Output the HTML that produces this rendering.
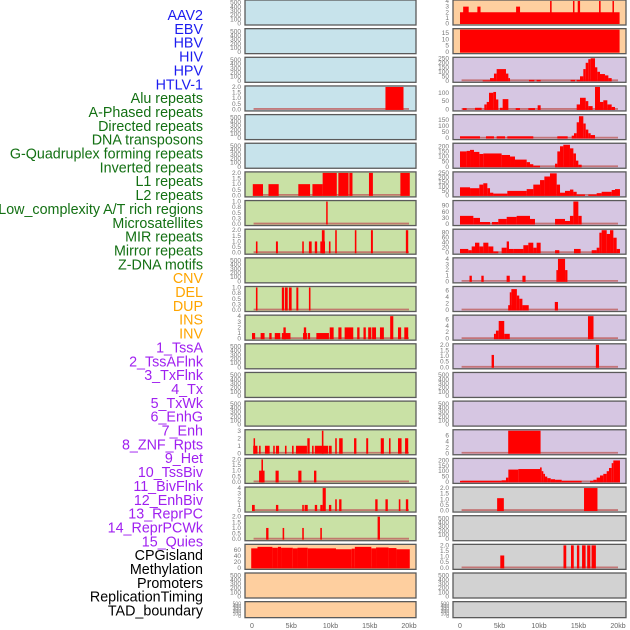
<!DOCTYPE html>
<html><head><meta charset="utf-8"><style>
html,body{margin:0;padding:0;background:#fff;width:630px;height:630px;overflow:hidden}
svg{display:block;font-family:"Liberation Sans",sans-serif}
</style></head><body>
<svg id="c" width="630" height="630"></svg>
<script>
const labels=["AAV2","EBV","HBV","HIV","HPV","HTLV-1","Alu repeats","A-Phased repeats","Directed repeats","DNA transposons","G-Quadruplex forming repeats","Inverted repeats","L1 repeats","L2 repeats","Low_complexity A/T rich regions","Microsatellites","MIR repeats","Mirror repeats","Z-DNA motifs","CNV","DEL","DUP","INS","INV","1_TssA","2_TssAFlnk","3_TxFlnk","4_Tx","5_TxWk","6_EnhG","7_Enh","8_ZNF_Rpts","9_Het","10_TssBiv","11_BivFlnk","12_EnhBiv","13_ReprPC","14_ReprPCWk","15_Quies","CPGisland","Methylation","Promoters","ReplicationTiming","TAD_boundary"];
const labelGroups=[6,13,5,15,5];
const groupColors=["#1c1cf0","#137013","#ffa500","#a020f0","#000000"];
const xTicks=[0,5,10,15,20];
const xTickLabels=["0","5kb","10kb","15kb","20kb"];
const leftBg=["b","b","b","b","b","b","g","g","g","g","g","g","g","g","g","g","g","g","g","o","o","o"];
const rightBg=["o","o","p","p","p","p","p","p","p","p","p","p","p","p","p","p","p","y","y","y","y","y"];
const E=null;
const leftYmax=[E,E,E,2,E,E,2,1,2,E,1,4,E,E,E,3,2,4,2,75,E,E];
const leftTickStep=[E,E,E,0.5,E,E,0.5,0.25,0.5,E,0.25,1,E,E,E,1,0.5,1,0.5,20,E,E];
const leftBars=[[],[],[],
[[17,19.3,2]],[],[],
[[0.1,1.4,1],[2.1,3.4,1],[5.9,7.4,1],[7.7,9.0,1],[9.0,10.8,2],[11.0,12.3,2],[12.4,12.8,2],[14.9,15.4,2],[18.9,20.1,2]],
[[9.45,9.6,1]],
[[0.5,0.7,1],[3.05,3.3,1],[6.4,6.6,1],[7.25,7.6,1],[8.0,8.3,1],[8.7,9.3,1],[8.9,9.25,2],[9.8,10.0,1],[10.6,10.8,2],[13.1,13.3,2],[15.15,15.4,2],[19.6,19.9,2]],
[],
[[0.5,0.7,1],[3.8,4.1,1],[4.2,4.55,1],[4.7,5.05,1],[5.65,5.9,1],[7.25,7.45,1]],
[[0.0,0.4,1],[1.1,1.6,1],[2.2,2.5,1],[2.9,3.6,1],[3.8,4.9,1],[4.0,4.3,2],[6.5,7.0,1],[6.6,6.9,2],[7.1,7.4,1],[8.2,9.8,1],[9.9,10.4,2],[11.0,11.4,2],[11.8,12.9,2],[13.4,13.7,2],[14.2,14.5,2],[14.8,15.2,2],[15.3,15.8,2],[16.3,16.8,2],[17.6,18.0,4],[18.6,19.0,2],[19.4,19.9,2]],
[],[],[],
[[0.15,0.7,1],[0.2,0.35,2],[0.9,1.1,1],[1.65,2.25,1],[2.7,2.9,1],[3.05,3.45,1],[4.2,4.4,1],[5.1,5.3,1],[5.6,7.0,1],[7.05,7.35,2],[7.65,7.85,1],[8.0,9.7,1],[8.9,9.1,3],[9.8,10.15,1],[10.6,10.8,2],[11.1,11.55,2],[13.0,13.3,2],[14.55,14.8,2],[16.4,16.8,2],[17.45,17.65,2],[18.6,19.05,2],[19.5,19.9,2]],
[[0.9,1.6,1],[1.2,1.4,2],[3.0,3.4,1],[5.9,6.3,1],[7.9,8.2,1]],
[[0.0,0.35,1],[3.05,3.35,1],[6.4,6.6,1],[6.7,7.1,1],[8.0,8.3,1],[8.7,9.0,1],[9.0,9.4,4],[9.8,10.1,1],[10.6,10.8,2],[11.1,11.4,2],[15.7,16.0,2],[17.0,17.3,2],[18.7,18.9,2],[19.6,19.9,2]],
[[1.8,2.1,1],[3.9,4.1,1],[6.4,6.6,1],[8.7,8.9,1],[16.0,16.3,2]],
[[-0.1,0.7,65],[0.7,2.6,70],[2.6,3.3,67],[3.3,3.7,70],[3.7,5.2,67],[5.2,5.8,65],[5.8,7.1,67],[7.1,10.7,65],[10.7,12.7,62],[12.7,13.1,64],[13.1,15.2,70],[15.2,15.8,65],[15.8,17.4,68],[17.4,18.4,66],[18.4,20.1,62]],
[],[]];
const rightYmax=[4,17.5,250,135,185,220,250,110,90,4,7,7,2,E,E,7.5,210,2,E,2,E,E];
const rightTicks=[[0,1,2,3,4],[0,5,10,15],[0,50,100,150,200,250],[0,50,100],[0,50,100,150],[0,50,100,150,200],[0,50,100,150,200,250],[0,30,60,90],[0,20,40,60,80],[0,1,2,3,4],[0,2,4,6],[0,2,4,6],[0,0.5,1,1.5,2],E,E,[0,2,4,6],[0,50,100,150,200],[0,0.5,1,1.5,2],E,[0,0.5,1,1.5,2],E,E];
const rightBars=[
[[0,20.2,2],[0.4,1.1,3],[2.2,2.6,3],[7.1,7.6,3],[11.4,11.6,4],[14.3,14.4,4],[14.9,15.2,4],[17.6,17.8,4],[19.3,19.4,4]],
[[0,20.2,17.5]],
[[2.87,3.8,5],[3.8,4.3,30],[4.3,4.64,80],[4.64,5.82,130],[5.82,6.12,80],[6.12,6.33,30],[8.73,9.41,10],[9.7,10.21,10],[14.0,14.56,10],[14.77,15.19,10],[15.19,15.61,50],[15.61,15.91,130],[15.91,16.24,200],[16.24,16.54,240],[16.54,17.09,250],[17.09,17.38,150],[17.38,17.72,100],[17.72,18.35,75],[18.35,18.78,60],[18.78,19.2,30]],
[[0.34,0.84,8],[1.9,2.74,10],[3.08,3.38,30],[3.38,3.67,45],[3.67,4.22,100],[4.22,4.56,105],[4.56,4.85,60],[5.06,5.4,10],[5.4,6.12,62],[7.05,7.59,8],[8.65,9.49,8],[9.83,10.21,25],[14.77,15.19,30],[15.19,15.91,70],[15.91,16.24,50],[16.24,16.79,20],[17.09,17.72,135],[17.72,18.14,45],[18.14,18.65,55],[18.65,19.2,30],[19.2,19.62,15]],
[[0,2.53,15],[3.29,4.3,15],[4.64,5.7,15],[5.99,9.28,15],[12.32,13.63,15],[14.14,14.43,20],[14.43,14.77,40],[14.77,15.06,130],[15.06,15.61,180],[15.61,15.91,120],[15.91,16.24,70],[16.24,16.54,40],[16.54,17.09,25]],
[[0,0.84,150],[0.84,1.27,155],[1.27,1.77,165],[1.77,2.45,145],[2.45,2.95,125],[2.95,5.27,130],[5.27,6.33,115],[6.33,6.96,100],[6.96,8.44,70],[8.44,8.86,45],[8.86,9.28,25],[9.28,10.13,10],[12.03,12.32,30],[12.32,12.66,150],[12.66,13.08,200],[13.08,13.92,215],[13.92,14.35,180],[14.35,14.68,130],[14.68,14.98,60],[14.98,15.4,20]],
[[0,1.27,90],[1.27,2.45,80],[2.45,2.95,120],[2.95,3.46,135],[3.46,3.8,80],[3.8,4.22,30],[4.22,5.99,20],[5.99,8.44,50],[8.44,9.28,70],[9.28,10.13,120],[10.13,10.68,170],[10.68,11.39,210],[11.39,12.24,245],[12.24,12.66,120],[12.66,13.29,30],[13.29,13.92,50],[13.92,14.35,65],[14.35,14.77,40],[14.77,15.82,10],[16.24,17.3,10],[17.3,17.93,25],[17.93,19.2,40],[19.2,19.62,60],[19.62,20.25,70]],
[[0,1.69,40],[1.69,2.53,30],[2.53,3.8,10],[4.05,4.85,10],[4.85,5.91,25],[5.91,7.17,35],[7.17,8.86,40],[8.86,9.49,25],[12.03,13.29,25],[13.29,13.92,15],[13.92,14.35,40],[14.35,14.98,110],[14.98,15.4,40]],
[[0,1.05,15],[1.05,1.48,10],[1.48,1.9,25],[1.9,2.45,40],[2.45,2.95,25],[2.95,3.59,40],[3.59,4.22,25],[4.22,4.85,5],[5.27,5.91,20],[5.91,6.2,45],[6.2,6.75,15],[6.75,8.02,15],[8.02,8.65,30],[8.65,9.28,40],[9.28,9.7,20],[9.7,10.21,40],[12.03,12.57,10],[14.43,15.27,15],[16.67,17.3,10],[17.3,17.64,20],[17.64,17.93,80],[17.93,18.57,90],[18.57,18.99,75],[18.99,19.41,90],[19.41,19.83,60],[19.83,20.25,15]],
[[1.2,1.5,1],[2.7,3.0,1],[5.9,6.3,1],[7.9,8.3,1],[12.2,12.4,2],[12.4,13.3,4],[13.3,13.6,2]],
[[6.1,6.5,1.5],[6.3,6.5,5.5],[6.5,7.2,6.5],[7.2,7.5,4.5],[7.5,7.9,3.5],[7.9,8.7,1.5],[12.0,12.4,2.5]],
[[4.3,4.55,1.5],[4.55,4.9,2.5],[4.9,5.6,5.5],[5.6,6.3,1.5],[16.2,16.9,7]],
[[4.0,4.3,1.1],[17.2,17.6,2.0]],
[],[],
[[6.1,10.2,7.5]],
[[0,5.27,10],[5.27,5.82,15],[5.82,6.12,40],[6.12,7.38,115],[7.38,10.13,120],[10.13,10.34,135],[10.34,10.55,100],[10.55,10.76,75],[10.76,11.05,50],[11.05,11.48,35],[11.48,12.03,25],[12.03,12.87,20],[12.87,15.4,10],[16.46,16.88,10],[16.88,17.3,20],[17.3,17.72,40],[17.72,18.14,60],[18.14,18.57,75],[18.57,18.86,100],[18.86,19.2,130],[19.2,19.41,175],[19.41,20.25,200]],
[[4.7,5.55,1.1],[15.7,17.4,2]],
[],
[[5.1,5.6,1.1],[13.1,13.45,2],[14.05,14.4,2],[14.8,15.1,2],[15.45,15.9,2],[16.1,16.5,2],[16.65,17.2,2]],
[],[]];

const NS="http://www.w3.org/2000/svg";
const svg=document.getElementById('c');
const bgCol={b:"#c7e3eb",g:"#c9e1a5",o:"#fecf9f",p:"#d6c6e2",y:"#d2d2d2"};
function mk(t,a){const e=document.createElementNS(NS,t);for(const k in a)e.setAttribute(k,a[k]);svg.appendChild(e);return e;}
let gi=0,cnt=0;
labels.forEach((l,i)=>{
  while(cnt>=labelGroups[gi]){gi++;cnt=0;}
  cnt++;
  const t=mk('text',{x:203,y:20+i*13.85,'text-anchor':'end','font-size':14.3,fill:groupColors[gi]});
  t.textContent=l;
  
  
});
function rowTop(i){return i*28.65;}
function rowH(i){return i===21?16:25;}
function fmt(v,step){if(step<0.1)return v.toFixed(2);if(step<1)return v.toFixed(1);return String(v);}
function drawPanel(i,side){
  const isL=side==='L';
  const px0=isL?245:453, px1=isL?416:626;
  const x0=isL?252:460, scale=isL?7.85:7.9;
  const xs=kb=>x0+kb*scale;
  const top=rowTop(i), h=rowH(i), bot=top+h;
  const bg=isL?leftBg[i]:rightBg[i];
  const r=mk('rect',{x:px0,y:top,width:px1-px0,height:h,fill:bgCol[bg],stroke:"#5a5a5a",'stroke-width':1.3});
  
  
  let ymax=isL?leftYmax[i]:rightYmax[i];
  let ticks;
  if(isL){const st=leftTickStep[i];if(ymax!=null){ticks=[];for(let v=0;v<=ymax+1e-9;v+=st)ticks.push(+v.toFixed(3));ticks.step=st;}}
  else{ticks=rightTicks[i];if(ticks){ticks=ticks.slice();ticks.step=ticks[1]-ticks[0];}}
  const empty=ymax==null;
  if(empty){ymax=540;ticks=[0,100,200,300,400,500];ticks.step=100;}
  const ys=v=>bot-1.5-(v/ymax)*(h-2.5);
  ticks.forEach(v=>{
    const t=mk('text',{x:px0-4,y:ys(v)+2,'text-anchor':'end','font-size':h<20?5:6.5,fill:"#777"});
    t.textContent=fmt(v,ticks.step);
    
    
  });
  if(empty)return;
  const bars=isL?leftBars[i]:rightBars[i];
  const bl=mk('line',{x1:xs(0.2),x2:xs(20),y1:bot-2,y2:bot-2,stroke:"#c06060",'stroke-width':1.8,opacity:0.8});
  
  
  bars.forEach(b=>{
    const y=ys(b[2]);
    const e=mk('rect',{x:xs(b[0]),y:Math.max(top+0.7,y),width:Math.max(1.5,xs(b[1])-xs(b[0])),height:bot-1-Math.max(top+0.7,y),fill:"#ff0000"});
    
    
  });
}
for(let i=0;i<22;i++){drawPanel(i,'L');drawPanel(i,'R');}
['L','R'].forEach(s=>{
  const x0=s==='L'?252:460, sc=s==='L'?7.85:7.9;
  xTicks.forEach((v,k)=>{
    const t=mk('text',{x:x0+v*sc,y:628,'text-anchor':'middle','font-size':7,fill:"#666"});
    t.textContent=xTickLabels[k];
    
    
  });
});
</script>
</body></html>
